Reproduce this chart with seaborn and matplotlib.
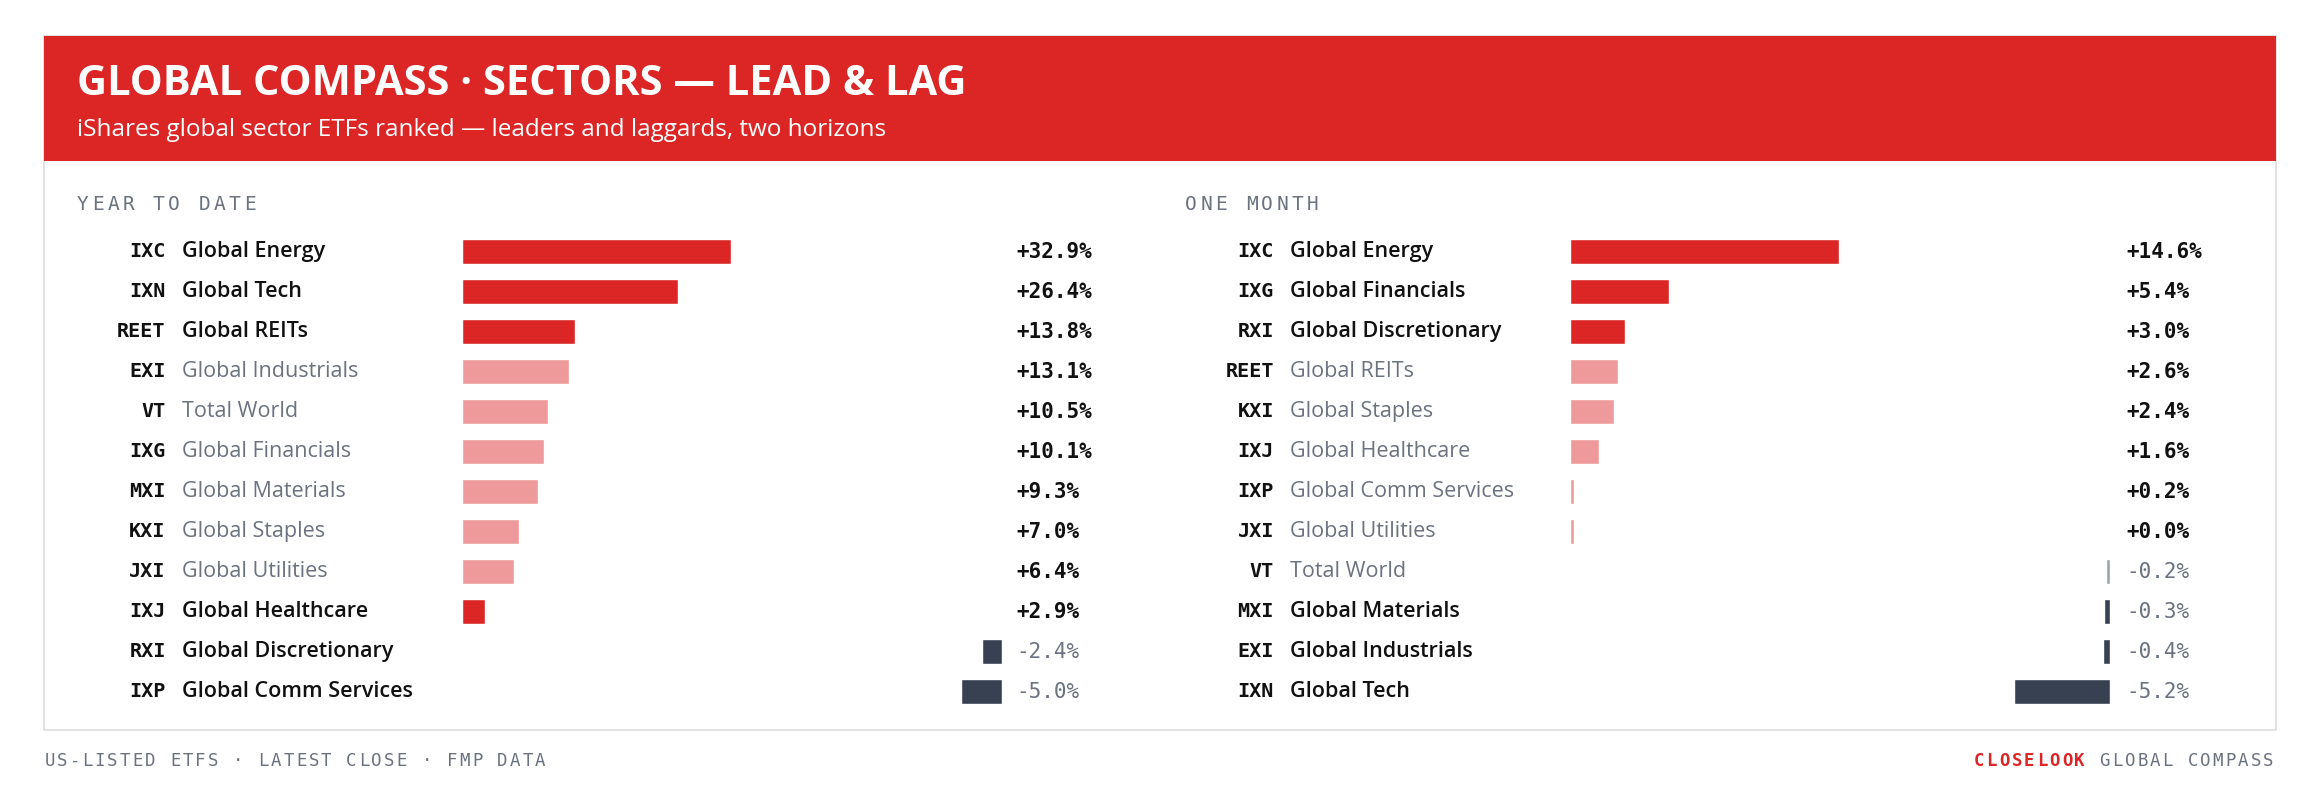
import matplotlib
matplotlib.use("Agg")
import matplotlib.pyplot as plt
from matplotlib.patches import Rectangle
import seaborn as sns

sns.set_theme(style="white")
plt.rcParams['font.family'] = ['Open Sans', 'DejaVu Sans']

# data
ytd_tickers = ['IXC', 'IXN', 'REET', 'EXI', 'VT', 'IXG', 'MXI', 'KXI', 'JXI', 'IXJ', 'RXI', 'IXP']
ytd_names = ['Global Energy', 'Global Tech', 'Global REITs', 'Global Industrials', 'Total World',
             'Global Financials', 'Global Materials', 'Global Staples', 'Global Utilities',
             'Global Healthcare', 'Global Discretionary', 'Global Comm Services']
ytd_values = [32.9, 26.4, 13.8, 13.1, 10.5, 10.1, 9.3, 7.0, 6.4, 2.9, -2.4, -5.0]

m1_tickers = ['IXC', 'IXG', 'RXI', 'REET', 'KXI', 'IXJ', 'IXP', 'JXI', 'VT', 'MXI', 'EXI', 'IXN']
m1_names = ['Global Energy', 'Global Financials', 'Global Discretionary', 'Global REITs',
            'Global Staples', 'Global Healthcare', 'Global Comm Services', 'Global Utilities',
            'Total World', 'Global Materials', 'Global Industrials', 'Global Tech']
m1_values = [14.6, 5.4, 3.0, 2.6, 2.4, 1.6, 0.2, 0.0, -0.2, -0.3, -0.4, -5.2]

RED = '#dc2626'
LIGHT = '#ef9a9a'
DARK = '#374151'
GREY_BAR = '#9ca3af'
GREY = '#6b7280'
INK = '#111111'
W, H = 1568, 547
mono = 'DejaVu Sans Mono'


def fx(x):
    return x / W


def fy(y):
    return 1 - y / H


def spaced(x, y, s, adv, **kw):
    # monospace text with letter spacing, one glyph per slot
    for k, ch in enumerate(s):
        fig.text(fx(x + k * adv), fy(y), ch, family=mono, va='center', **kw)


fig = plt.figure(figsize=(23.2, 8.1), dpi=100)
fig.patch.set_facecolor('white')

# card and header
fig.add_artist(Rectangle((fx(30), fy(493)), fx(1538) - fx(30), fy(24) - fy(493),
                         transform=fig.transFigure, facecolor='white', edgecolor='#dddddd',
                         lw=1.2, zorder=-5))
fig.add_artist(Rectangle((fx(30), fy(109)), fx(1538) - fx(30), fy(24) - fy(109),
                         transform=fig.transFigure, facecolor=RED, edgecolor='none', zorder=-4))
fig.text(fx(52), fy(57), 'GLOBAL COMPASS · SECTORS — LEAD & LAG', color='white',
         fontsize=30, fontweight='bold', va='center')
fig.text(fx(52), fy(88), 'iShares global sector ETFs ranked — leaders and laggards, two horizons',
         color='white', fontsize=17.5, va='center')

row_y = [170 + 27 * i for i in range(12)]


def panel(x0, title, tickers, names, values, zero_x, neg_x, val_x, scale):
    spaced(x0, 138, title, 10.25, color=GREY, fontsize=14)
    n = len(values)
    colors, bold = [], []
    n_neg = sum(v < 0 for v in values)
    for i, v in enumerate(values):
        if v >= 0 and (i < 3 or (n_neg < 3 and i == n - 3)):
            colors.append(RED)
            bold.append(True)
        elif v >= 0:
            colors.append(LIGHT)
            bold.append(False)
        elif i >= n - 3:
            colors.append(DARK)
            bold.append(True)
        else:
            colors.append(GREY_BAR)
            bold.append(False)
    ax = fig.add_axes([fx(zero_x), fy(row_y[-1] + 13.5), fx(neg_x) - fx(zero_x),
                       fy(row_y[0] - 13.5) - fy(row_y[-1] + 13.5)])
    ax.patch.set_alpha(0)
    span = (neg_x - zero_x) / scale
    minw = 2.5 / scale
    widths = [max(abs(v), minw) for v in values]
    lefts = [0 if v >= 0 else span - w for v, w in zip(values, widths)]
    ax.barh(range(n), widths, left=lefts, height=0.63, color=colors)
    ax.set_xlim(0, span)
    ax.set_ylim(n - 0.5, -0.5)
    ax.axis('off')
    for i, (t, nm, v) in enumerate(zip(tickers, names, values)):
        y = fy(row_y[i])
        fig.text(fx(x0 + 60), y, t, family=mono, fontweight='bold', color=INK,
                 fontsize=14.5, ha='right', va='center')
        fig.text(fx(x0 + 71), y, nm, color=INK if bold[i] else GREY, fontsize=15.5,
                 fontweight='semibold' if bold[i] else 'normal', va='center')
        fig.text(fx(val_x), y, '+0.0%' if v == 0 else f'{v:+.1f}%', family=mono,
                 fontweight='bold' if v >= 0 else 'normal', color=INK if v >= 0 else GREY,
                 fontsize=15, va='center')


panel(52, 'YEAR TO DATE', ytd_tickers, ytd_names, ytd_values, 312, 677, 687, 182 / 32.9)
panel(801, 'ONE MONTH', m1_tickers, m1_names, m1_values, 1061, 1426, 1437, 182 / 14.6)

spaced(30, 514, 'US-LISTED ETFS · LATEST CLOSE · FMP DATA', 8.5, color=GREY, fontsize=12.5)
spaced(1334, 514, 'CLOSELOOK', 8.5, color=RED, fontsize=12.5, fontweight='bold')
spaced(1334 + 10 * 8.5, 514, 'GLOBAL COMPASS', 8.5, color=GREY, fontsize=12.5)

fig.savefig('out.png', dpi=100, facecolor='white')
